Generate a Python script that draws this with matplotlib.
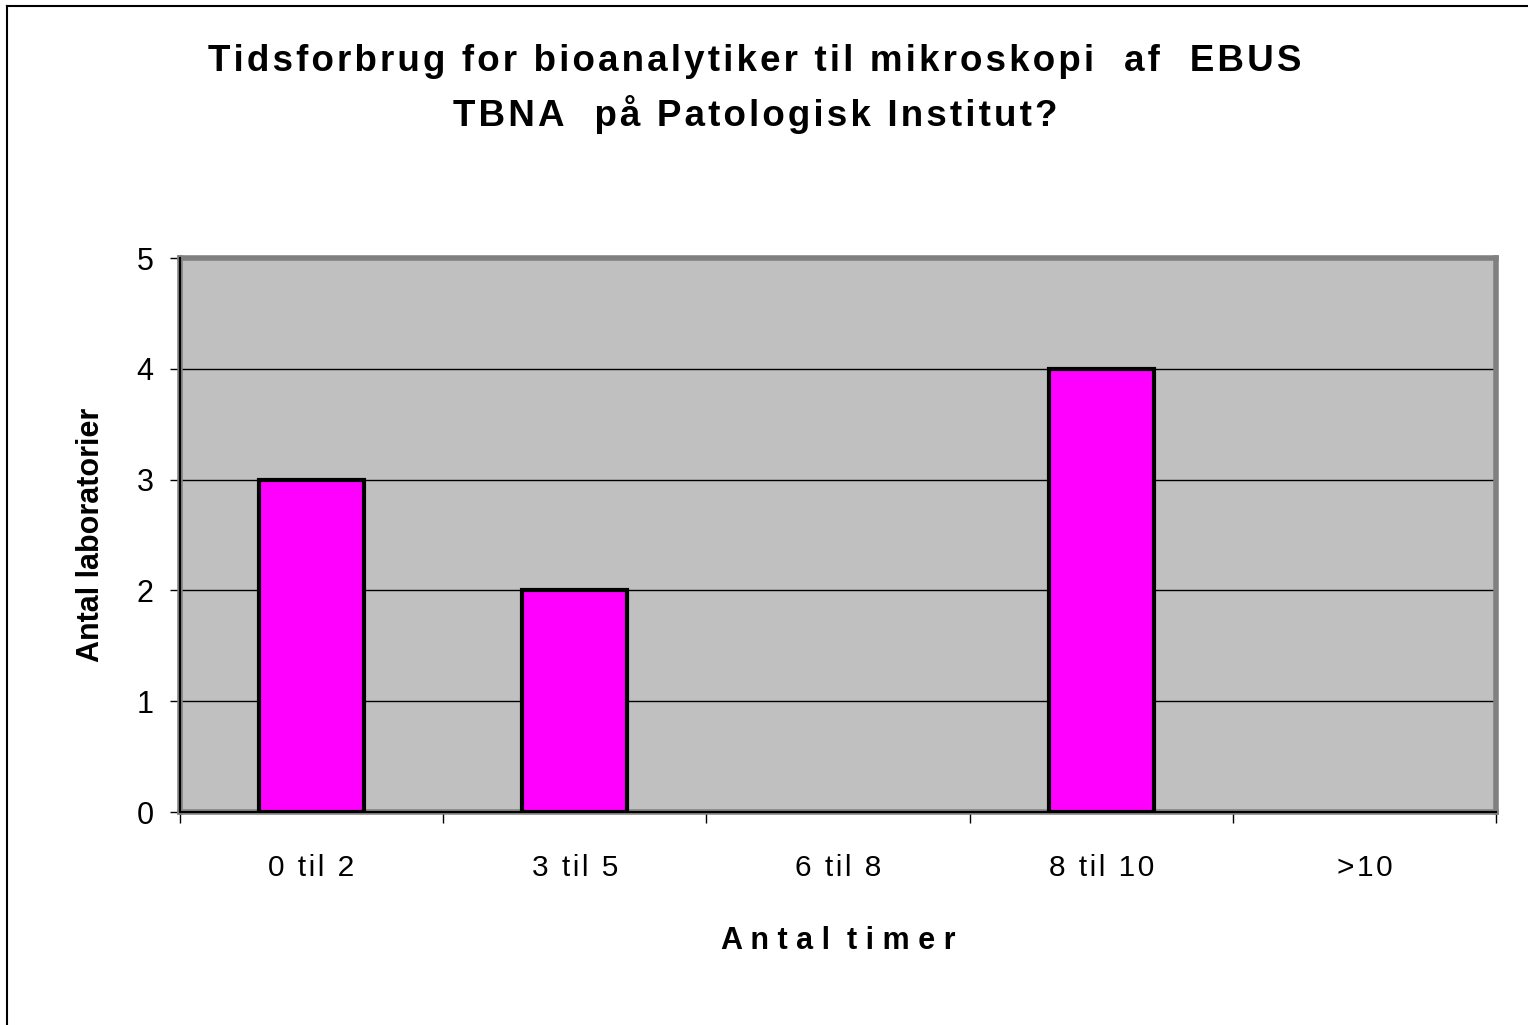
import numpy as np
import matplotlib
matplotlib.use("Agg")
from matplotlib import pyplot as plt
from matplotlib.lines import Line2D

categories = ["0 til 2", "3 til 5", "6 til 8", "8 til 10", ">10"]
counts = [3, 2, 0, 4, 0]
yticks = [0, 1, 2, 3, 4, 5]
title_lines = ["Tidsforbrug for bioanalytiker til mikroskopi  af  EBUS",
               "TBNA  på Patologisk Institut?"]

plt.rcParams['font.family'] = ['Liberation Sans', 'DejaVu Sans']


def spaced(s, sep='\u200a'):
    # old Excel-style letter spacing
    return sep.join(s)


fig = plt.figure(figsize=(15.28, 10.25), dpi=100)
fig.patch.set_facecolor('white')
ax = fig.add_axes([180/1528, 1-812/1025, (1496-180)/1528, (812-258)/1025])

ax.set_facecolor('#C0C0C0')
x = np.arange(len(categories))
edges = ['black' if c > 0 else 'none' for c in counts]
ax.bar(x, counts, width=0.4, color='#FF00FF', edgecolor=edges, linewidth=3, zorder=3)

ax.set_xlim(-0.5, len(categories)-0.5)
ax.set_ylim(0, 5)
ax.set_yticks(yticks)
for v in yticks[1:-1]:
    ax.axhline(v, color='black', linewidth=1, zorder=1)

for s in ['top', 'right', 'left', 'bottom']:
    ax.spines[s].set_color('#808080')
    ax.spines[s].set_linewidth(4)
ax.axvline(-0.5, color='black', linewidth=1.5, zorder=4, clip_on=False)
ax.axhline(0, color='black', linewidth=1.5, zorder=4, clip_on=False)

ax.set_xticks(x)
ax.set_xticklabels([spaced(c) for c in categories], fontsize=21.5)
ax.set_xticks(np.arange(-0.5, len(categories)), minor=True)
ax.tick_params(axis='x', which='major', length=0, pad=30)
ax.tick_params(axis='x', which='minor', length=8, width=1, direction='out')
ax.tick_params(axis='y', length=7, width=1, direction='out', labelsize=22, pad=12)

ax.set_xlabel("A n t a l  t i m e r", fontsize=22, fontweight='bold', labelpad=32)
ax.set_ylabel("Antal laboratorier", fontsize=22, fontweight='bold', labelpad=22)

fig.text(0.494, 1-89/1025, "\n".join(spaced(t) for t in title_lines),
         ha='center', va='center', fontsize=26.5, fontweight='bold', linespacing=1.5)

fig.add_artist(Line2D([7/1528, 7/1528], [0, 1-6/1025], color='black', linewidth=1.5, transform=fig.transFigure))
fig.add_artist(Line2D([7/1528, 1], [1-6/1025, 1-6/1025], color='black', linewidth=1.5, transform=fig.transFigure))

fig.savefig("out.png", dpi=100)
